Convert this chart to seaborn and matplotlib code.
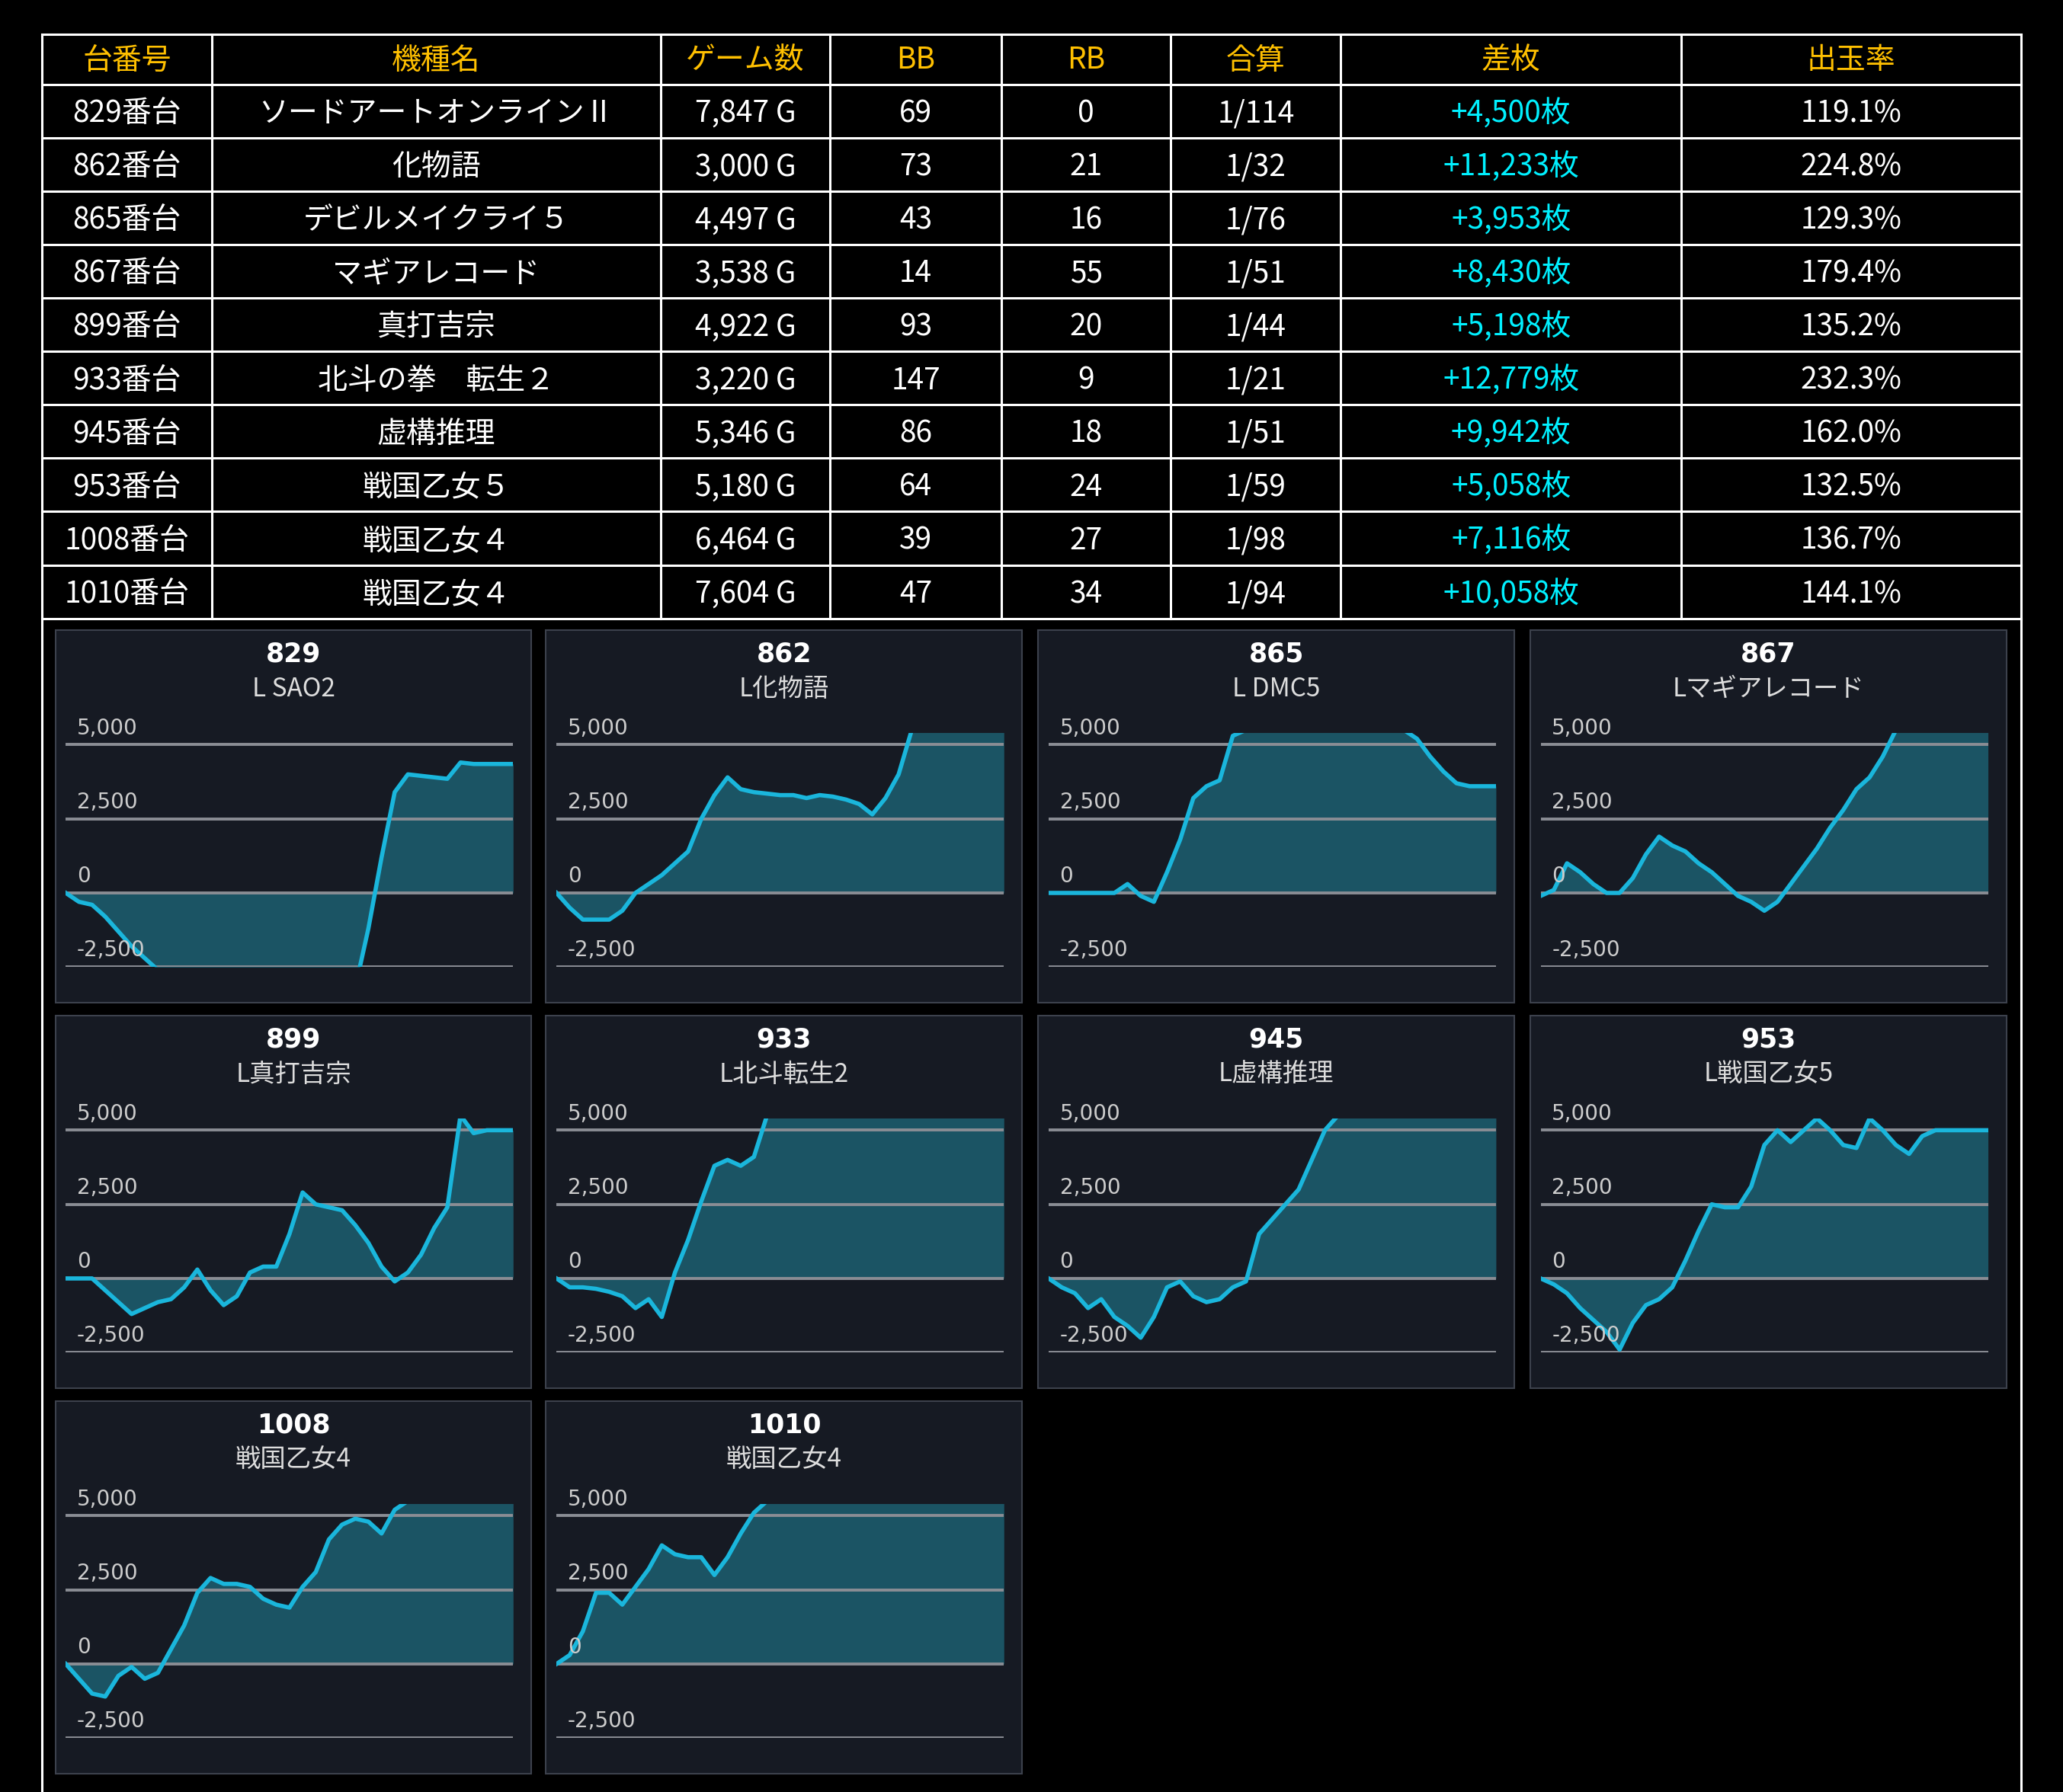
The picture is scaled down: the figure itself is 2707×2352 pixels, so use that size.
import numpy as np
import pandas as pd
import seaborn as sns
import matplotlib.pyplot as plt
import matplotlib.transforms as mtrans
from matplotlib.patches import Rectangle

# データ
headers = ["台番号", "機種名", "ゲーム数", "BB", "RB", "合算", "差枚", "出玉率"]
dai = ["829番台", "862番台", "865番台", "867番台", "899番台", "933番台", "945番台", "953番台", "1008番台", "1010番台"]
kishu = ["ソードアートオンラインⅡ", "化物語", "デビルメイクライ５", "マギアレコード", "真打吉宗",
         "北斗の拳　転生２", "虚構推理", "戦国乙女５", "戦国乙女４", "戦国乙女４"]
games = ["7,847 G", "3,000 G", "4,497 G", "3,538 G", "4,922 G", "3,220 G", "5,346 G", "5,180 G", "6,464 G", "7,604 G"]
bb = ["69", "73", "43", "14", "93", "147", "86", "64", "39", "47"]
rb = ["0", "21", "16", "55", "20", "9", "18", "24", "27", "34"]
gousan = ["1/114", "1/32", "1/76", "1/51", "1/44", "1/21", "1/51", "1/59", "1/98", "1/94"]
samai = ["+4,500枚", "+11,233枚", "+3,953枚", "+8,430枚", "+5,198枚", "+12,779枚", "+9,942枚", "+5,058枚", "+7,116枚", "+10,058枚"]
ritsu = ["119.1%", "224.8%", "129.3%", "179.4%", "135.2%", "232.3%", "162.0%", "132.5%", "136.7%", "144.1%"]

panel_nums = ["829", "862", "865", "867", "899", "933", "945", "953", "1008", "1010"]
panel_names = ["L SAO2", "L化物語", "L DMC5", "Lマギアレコード", "L真打吉宗", "L北斗転生2",
               "L虚構推理", "L戦国乙女5", "戦国乙女4", "戦国乙女4"]

s829 = [0, -300, -400, -800, -1300, -1800, -2200, -2600, -2800] + [-3200] * 14 + \
       [-1200, 1200, 3400, 4000, 3950, 3900, 3850, 4400, 4350, 4350, 4350, 4350]
s862 = [0, -500, -900, -900, -900, -600, 0, 300, 600, 1000, 1400, 2500, 3300, 3900, 3500, 3400,
        3350, 3300, 3300, 3200, 3300, 3250, 3150, 3000, 2650, 3200, 4000] + [5500] * 8
s865 = [0, 0, 0, 0, 0, 0, 300, -100, -300, 700, 1800, 3200, 3600, 3800, 5300] + [5500] * 13 + \
       [5200, 4600, 4100, 3700, 3600, 3600, 3600]
s867 = [-100, 100, 1000, 700, 300, 0, 0, 500, 1300, 1900, 1600, 1400, 1000, 700, 300, -100, -300,
        -600, -300, 300, 900, 1500, 2200, 2800, 3500, 3900, 4600] + [5500] * 8
s899 = [0, 0, 0, -400, -800, -1200, -1000, -800, -700, -300, 300, -400, -900, -600, 200, 400, 400,
        1500, 2900, 2500, 2400, 2300, 1800, 1200, 400, -100, 200, 800, 1700, 2400, 5500, 4900, 5000, 5000, 5000]
s933 = [0, -300, -300, -350, -450, -600, -1000, -700, -1300, 200, 1300, 2600, 3800, 4000, 3800, 4100] + [5500] * 19
s945 = [0, -300, -500, -1000, -700, -1300, -1600, -2000, -1300, -300, -100, -600, -800, -700, -300,
        -100, 1500, 2000, 2500, 3000, 4000, 5000] + [5500] * 13
s953 = [0, -200, -500, -1000, -1400, -1800, -2400, -1500, -900, -700, -300, 600, 1600, 2500, 2400, 2400,
        3100, 4500, 5000, 4600, 5000, 5400, 5000, 4500, 4400, 5400, 5000, 4500, 4200, 4800, 5000, 5000, 5000, 5000, 5000]
s1008 = [0, -500, -1000, -1100, -400, -100, -500, -300, 500, 1300, 2400, 2900, 2700, 2700, 2600, 2200,
         2000, 1900, 2600, 3100, 4200, 4700, 4900, 4800, 4400, 5200] + [5500] * 9
s1010 = [0, 300, 1100, 2400, 2400, 2000, 2600, 3200, 4000, 3700, 3600, 3600, 3000, 3600, 4400, 5100] + [5500] * 19
series = [s829, s862, s865, s867, s899, s933, s945, s953, s1008, s1010]

yticks = [5000, 2500, 0, -2500]

W, H = 1568, 1362
fig = plt.figure(figsize=(27.07, 23.52), dpi=100, facecolor="black")
plt.rcParams['font.family'] = ['Noto Sans CJK JP', 'DejaVu Sans']

base = fig.add_axes([0, 0, 1, 1])
base.set_xlim(0, W)
base.set_ylim(H, 0)
base.axis("off")

# 表
col_x = [32, 161, 502, 631, 761, 890, 1019, 1278, 1536]
row_y = [26, 64] + [64 + 40.6 * (k + 1) for k in range(10)]
for y in row_y:
    base.plot([col_x[0], col_x[-1]], [y, y], color="white", lw=2.2)
for x in col_x:
    bottom = H if x in (col_x[0], col_x[-1]) else row_y[-1]
    base.plot([x, x], [row_y[0], bottom], color="white", lw=2.2)

cols = [dai, kishu, games, bb, rb, gousan, samai, ritsu]
fs = 28
for j, h in enumerate(headers):
    cx = (col_x[j] + col_x[j + 1]) / 2
    base.text(cx, (row_y[0] + row_y[1]) / 2 + 1, h, color="#ffc000", fontsize=fs, ha="center", va="center")
    for i in range(10):
        cy = (row_y[i + 1] + row_y[i + 2]) / 2 + 2
        c = "#00f0ff" if j == 6 else "white"
        base.text(cx, cy, cols[j][i], color=c, fontsize=fs, ha="center", va="center")

# グラフ
px0 = [42, 415, 789, 1163]
py0 = [479, 772, 1065]
pw, ph = 362, 283
for k, vals in enumerate(series):
    r, c = divmod(k, 4)
    x0, y0 = px0[c], py0[r]
    base.add_patch(Rectangle((x0, y0), pw, ph, facecolor="#161a23", edgecolor="#3c414c", lw=1.5))
    base.text(x0 + pw / 2, y0 + 18, panel_nums[k], color="white", fontsize=25, fontweight="bold",
              ha="center", va="center", family=["DejaVu Sans"])
    base.text(x0 + pw / 2, y0 + 45, panel_names[k], color="#dddddd", fontsize=24, ha="center", va="center")

    ax = fig.add_axes([(x0 + 8) / W, 1 - (y0 + 256) / H, 340 / W, 178 / H])
    ax.patch.set_alpha(0)
    x = np.arange(len(vals))
    df = pd.DataFrame({"x": x, "y": vals})
    ax.fill_between(df["x"], 0, df["y"], color="#1c5f70", alpha=0.85, lw=0, zorder=1)
    for v in yticks:
        ax.axhline(v, color="#8a8d94", lw=2.8, zorder=2)
        ax.text(0.025, v + 200, f"{v:,}", transform=mtrans.blended_transform_factory(ax.transAxes, ax.transData),
                color="#cccccc", fontsize=20, ha="left", va="bottom", family=["DejaVu Sans"], zorder=4)
    sns.lineplot(data=df, x="x", y="y", ax=ax, color="#1ab6dc", lw=4, zorder=3)
    ax.set_xlim(0, len(vals) - 1)
    ax.set_ylim(-2500, 5400)
    ax.axis("off")

fig.savefig("out.png", dpi=100, facecolor="black")
